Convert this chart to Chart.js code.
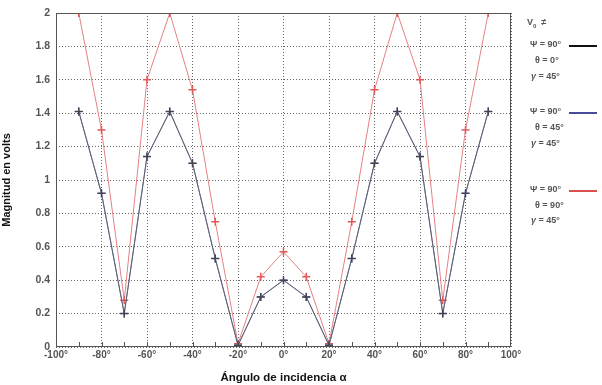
<!DOCTYPE html>
<html><head><meta charset="utf-8">
<script src="https://cdn.jsdelivr.net/npm/chart.js@4"></script>
<style>
html,body{margin:0;padding:0;background:#fff;}
#wrap{position:relative;width:602px;height:385px;}
canvas{position:absolute;left:0;top:0;}
.lg{position:absolute;font-family:"Liberation Sans",Arial,sans-serif;font-size:9px;font-weight:bold;color:#555;white-space:nowrap;}
.ln{position:absolute;height:2px;width:28px;}
</style></head>
<body><div id="wrap"><canvas id="c" width="602" height="385"></canvas>
<div class="lg" style="left:527px;top:17px;">V<sub style="font-size:6px">0</sub> &nbsp;≠</div>
<div class="lg" style="left:530px;top:39px;">Ψ = 90°</div><div class="ln" style="left:569px;top:45px;background:#111;"></div>
<div class="lg" style="left:535px;top:55px;">θ = 0°</div>
<div class="lg" style="left:531px;top:71px;"><i>γ</i> = 45°</div>
<div class="lg" style="left:530px;top:106px;">Ψ = 90°</div><div class="ln" style="left:569px;top:112px;background:#4a4a9a;"></div>
<div class="lg" style="left:535px;top:122px;">θ = 45°</div>
<div class="lg" style="left:531px;top:138px;"><i>γ</i> = 45°</div>
<div class="lg" style="left:530px;top:184px;">Ψ = 90°</div><div class="ln" style="left:569px;top:190px;background:#d85050;"></div>
<div class="lg" style="left:535px;top:200px;">θ = 90°</div>
<div class="lg" style="left:531px;top:215px;"><i>γ</i> = 45°</div>
</div>
<script>
const angles = [-90,-80,-70,-60,-50,-40,-30,-20,-10,0,10,20,30,40,50,60,70,80,90];
const seriesTheta0  = [1.41,0.92,0.20,1.14,1.41,1.10,0.53,0.01,0.30,0.40,0.30,0.01,0.53,1.10,1.41,1.14,0.20,0.92,1.41];
const seriesTheta45 = [1.41,0.92,0.20,1.14,1.41,1.10,0.53,0.01,0.30,0.40,0.30,0.01,0.53,1.10,1.41,1.14,0.20,0.92,1.41];
const seriesTheta90 = [2.00,1.30,0.28,1.60,2.00,1.54,0.75,0.02,0.42,0.57,0.42,0.02,0.75,1.54,2.00,1.60,0.28,1.30,2.00];
const xTickLabels = ['-100°','-80°','-60°','-40°','-20°','0°','20°','40°','60°','80°','100°'];

const toXY = arr => arr.map((v,i)=>({x:angles[i],y:v}));

const frame = {
  id:'frame',
  afterDraw(chart){
    const {ctx,chartArea:a,scales:{x}} = chart;
    ctx.save();
    ctx.strokeStyle='#555';ctx.lineWidth=1;
    ctx.strokeRect(a.left+0.5,a.top+0.5,a.right-a.left-1,a.bottom-a.top-1);
    ctx.strokeStyle='#555';
    for(let v=x.min+10; v<x.max; v+=10){
      const px=Math.round(x.getPixelForValue(v))+0.5;
      ctx.beginPath();ctx.moveTo(px,a.bottom-5);ctx.lineTo(px,a.bottom);ctx.stroke();
    }
    ctx.restore();
  }
};

new Chart(document.getElementById('c'),{
  type:'line',
  data:{datasets:[
    {label:'θ=0°',data:toXY(seriesTheta0),borderColor:'#5a5f70',borderWidth:1,pointStyle:'cross',pointRadius:4,pointBorderColor:'#444',tension:0},
    {label:'θ=45°',data:toXY(seriesTheta45),borderColor:'rgba(100,110,150,0.8)',borderWidth:1,pointStyle:'cross',pointRadius:4,pointBorderWidth:1.5,pointBorderColor:'#3a3a8a',tension:0},
    {label:'θ=90°',data:toXY(seriesTheta90),borderColor:'#e68080',borderWidth:1,pointStyle:'cross',pointRadius:4,pointBorderWidth:1.5,pointBorderColor:'#e05a5a',tension:0}
  ]},
  options:{
    responsive:false,animation:false,
    layout:{padding:{top:13,right:91,left:0,bottom:0}},
    plugins:{legend:{display:false},tooltip:{enabled:false}},
    scales:{
      x:{type:'linear',min:-100,max:100,
        afterFit(s){s.height=38;},
        afterBuildTicks(s){s.ticks=xTickLabels.map((l,i)=>({value:-100+20*i}));},
        ticks:{stepSize:20,autoSkip:false,maxRotation:0,padding:2,color:'#555',font:{family:'Liberation Sans',size:10,weight:'bold'},
          callback:(v,i)=>xTickLabels[i]},
        grid:{color:'#666',lineWidth:1,drawTicks:false},
        border:{display:false,dash:[1,2]},
        title:{display:true,text:'Ángulo de incidencia α',color:'#111',font:{family:'Liberation Sans',size:11.5,weight:'bold'},padding:{top:4,bottom:0}}
      },
      y:{min:0,max:2,
        afterFit(s){s.width=56;},
        ticks:{stepSize:0.2,padding:6,color:'#555',font:{family:'Liberation Sans',size:10.5,weight:'bold'},
          callback:v=>String(Math.round(v*10)/10)},
        grid:{color:'#666',lineWidth:1,drawTicks:false},
        border:{display:false,dash:[1,2]},
        title:{display:true,text:'Magnitud en volts',color:'#111',font:{family:'Liberation Sans',size:11,weight:'bold'},padding:{top:0,bottom:4}}
      }
    }
  },
  plugins:[frame]
});
</script></body></html>
